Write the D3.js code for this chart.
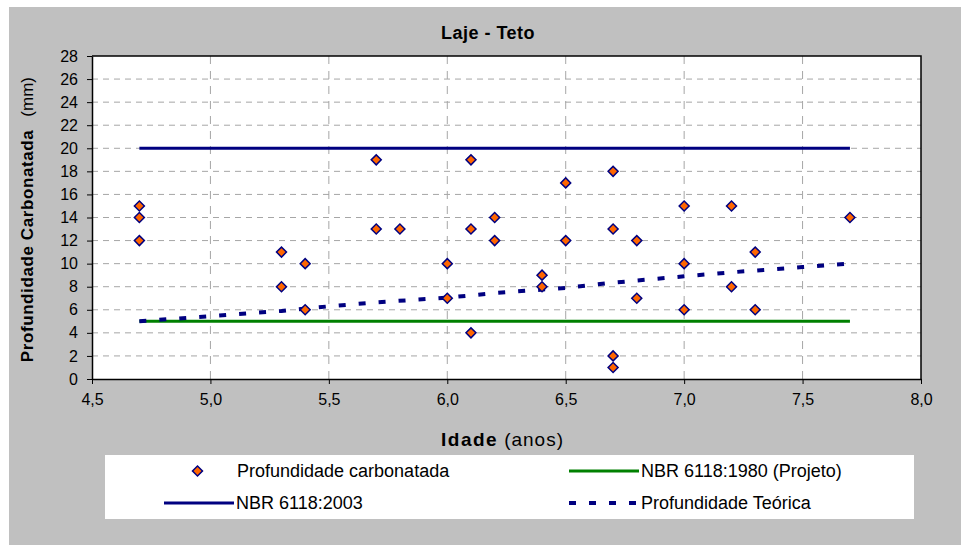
<!DOCTYPE html>
<html>
<head>
<meta charset="utf-8">
<script src="https://cdn.jsdelivr.net/npm/d3@7"></script>
<style>
        body { margin: 0; background: #fff; }
        text { font-family: Arial, "Liberation Sans", sans-serif; fill: #000; }
</style>
</head>
<body>
<div id="chart"></div>
<script>
// pontos medidos
var idade = [4.7, 4.7, 4.7, 5.3, 5.3, 5.4, 5.4, 5.7, 5.7, 5.8, 6.0, 6.0, 6.1, 6.1, 6.1, 6.2, 6.2,
        6.4, 6.4, 6.5, 6.5, 6.7, 6.7, 6.7, 6.7, 6.8, 6.8, 7.0, 7.0, 7.0, 7.2, 7.2, 7.3, 7.3, 7.7];
var profundidade = [15, 14, 12, 11, 8, 10, 6, 19, 13, 13, 10, 7, 19, 13, 4, 14, 12,
        9, 8, 17, 12, 18, 13, 2, 1, 12, 7, 15, 10, 6, 15, 8, 11, 6, 14];

// limites da norma
var normaIdade = [4.7, 7.7];
var nbr2003 = [20, 20];
var nbr1980 = [5, 5];

// curva teorica
var teoricaIdade = [4.7, 5.0, 5.3, 5.5, 5.7, 6.0, 6.2, 6.5, 6.7, 7.0, 7.2, 7.5, 7.7];
var teoricaProf = [5.0, 5.45, 5.9, 6.3, 6.65, 7.05, 7.45, 7.9, 8.35, 8.9, 9.25, 9.7, 10.0];

var xTicks = [4.5, 5.0, 5.5, 6.0, 6.5, 7.0, 7.5, 8.0];
var yTicks = [0, 2, 4, 6, 8, 10, 12, 14, 16, 18, 20, 22, 24, 26, 28];

var legendItems = [
        { name: "Profundidade carbonatada", kind: "point" },
        { name: "NBR 6118:1980 (Projeto)", kind: "green" },
        { name: "NBR 6118:2003", kind: "navy" },
        { name: "Profundidade Teórica", kind: "dash" }
];

var W = 961, H = 545;
var plot = { left: 92, top: 56, right: 921, bottom: 379 };

var svg = d3.select("#chart").append("svg")
        .attr("width", W)
        .attr("height", H);

svg.append("rect")
        .attr("x", 9).attr("y", 7)
        .attr("width", W - 9).attr("height", H - 7)
        .attr("fill", "#c0c0c0");

svg.append("rect")
        .attr("x", plot.left).attr("y", plot.top)
        .attr("width", plot.right - plot.left).attr("height", plot.bottom - plot.top)
        .attr("fill", "#fff");

var x = d3.scaleLinear().domain([4.5, 8.0]).range([plot.left, plot.right]);
var y = d3.scaleLinear().domain([0, 28]).range([plot.bottom, plot.top]);

var fmt = function (d) { return d3.format(".1f")(d).replace(".", ","); };

// grade
svg.append("g")
        .selectAll("line")
        .data(yTicks.filter(function (d) { return d > 0 && d < 28; }))
        .enter().append("line")
        .attr("x1", plot.left).attr("x2", plot.right)
        .attr("y1", function (d) { return y(d); })
        .attr("y2", function (d) { return y(d); })
        .attr("stroke", "#a6a6a6")
        .attr("stroke-dasharray", "6,5");

svg.append("g")
        .selectAll("line")
        .data(xTicks.filter(function (d) { return d > 4.5 && d < 8.0; }))
        .enter().append("line")
        .attr("x1", function (d) { return x(d); })
        .attr("x2", function (d) { return x(d); })
        .attr("y1", plot.top).attr("y2", plot.bottom)
        .attr("stroke", "#a6a6a6")
        .attr("stroke-dasharray", "8,7");

// eixos
var xAxis = d3.axisBottom(x).tickValues(xTicks).tickFormat(fmt).tickSizeInner(5).tickSizeOuter(0).tickPadding(10);
var yAxis = d3.axisLeft(y).tickValues(yTicks).tickSizeInner(5).tickSizeOuter(0).tickPadding(9);

var gx = svg.append("g")
        .attr("transform", "translate(0," + plot.bottom + ")")
        .call(xAxis);
var gy = svg.append("g")
        .attr("transform", "translate(" + plot.left + ",0)")
        .call(yAxis);

[gx, gy].forEach(function (g) {
        g.select(".domain").attr("stroke", "#000").attr("stroke-width", 1.5);
        g.selectAll(".tick line").attr("stroke", "#000");
        g.selectAll(".tick text")
                .style("font-size", "16px")
                .style("font-family", "Arial, 'Liberation Sans', sans-serif")
                .attr("fill", "#000");
});

svg.append("path")
        .attr("d", "M" + plot.left + "," + plot.top + "H" + plot.right + "V" + plot.bottom)
        .attr("fill", "none")
        .attr("stroke", "#000")
        .attr("stroke-width", 1.5);

// series
var line = d3.line()
        .x(function (d) { return x(d[0]); })
        .y(function (d) { return y(d[1]); });

svg.append("path")
        .datum(d3.zip(normaIdade, nbr2003))
        .attr("d", line)
        .attr("fill", "none")
        .attr("stroke", "#000080")
        .attr("stroke-width", 3);

svg.append("path")
        .datum(d3.zip(normaIdade, nbr1980))
        .attr("d", line)
        .attr("fill", "none")
        .attr("stroke", "#008000")
        .attr("stroke-width", 3);

svg.append("path")
        .datum(d3.zip(teoricaIdade, teoricaProf))
        .attr("d", line)
        .attr("fill", "none")
        .attr("stroke", "#000080")
        .attr("stroke-width", 4)
        .attr("stroke-dasharray", "7,13");

var diamond = d3.symbol().type(d3.symbolSquare).size(50);

svg.append("g")
        .selectAll("path")
        .data(d3.zip(idade, profundidade))
        .enter().append("path")
        .attr("d", diamond)
        .attr("transform", function (d) {
                return "translate(" + x(d[0]) + "," + y(d[1]) + ") rotate(45)";
        })
        .attr("fill", "#ff6600")
        .attr("stroke", "#000080")
        .attr("stroke-width", 1.5);

// titulos
svg.append("text")
        .attr("x", 488)
        .attr("y", 39)
        .attr("text-anchor", "middle")
        .style("font-size", "18px")
        .style("font-weight", "bold")
        .style("letter-spacing", "0.5px")
        .text("Laje - Teto");

var yLabel = svg.append("text")
        .attr("transform", "translate(33,77) rotate(-90)")
        .attr("text-anchor", "end")
        .style("font-size", "17px");
yLabel.append("tspan")
        .style("font-weight", "bold")
        .style("letter-spacing", "0.6px")
        .text("Profundidade Carbonatada");
yLabel.append("tspan")
        .attr("dx", 13)
        .text("(mm)");

var xLabel = svg.append("text")
        .attr("x", 441)
        .attr("y", 446)
        .style("font-size", "19px");
xLabel.append("tspan")
        .style("font-weight", "bold")
        .style("letter-spacing", "1.5px")
        .text("Idade");
xLabel.append("tspan")
        .attr("dx", 6)
        .style("letter-spacing", "1px")
        .text("(anos)");

// legenda
svg.append("rect")
        .attr("x", 105).attr("y", 455)
        .attr("width", 809).attr("height", 64)
        .attr("fill", "#fff");

var legend = svg.selectAll(".legend")
        .data(legendItems)
        .enter().append("g")
        .attr("class", "legend")
        .attr("transform", function (d, i) {
                return "translate(" + (i % 2 === 0 ? 164 : 569) + "," + (i < 2 ? 471 : 503) + ")";
        });

legend.each(function (d) {
        var g = d3.select(this);
        if (d.kind === "point") {
                g.append("path")
                        .attr("d", diamond)
                        .attr("transform", "translate(33.5,0) rotate(45)")
                        .attr("fill", "#ff6600")
                        .attr("stroke", "#000080")
                        .attr("stroke-width", 1.5);
        } else {
                g.append("line")
                        .attr("x1", 0).attr("x2", 70)
                        .attr("stroke", d.kind === "green" ? "#008000" : "#000080")
                        .attr("stroke-width", d.kind === "dash" ? 4 : 3)
                        .attr("stroke-dasharray", d.kind === "dash" ? "7,13" : null);
        }
});

legend.append("text")
        .attr("x", function (d) { return d.kind === "point" ? 73 : 72; })
        .attr("y", 6)
        .style("font-size", "18px")
        .text(function (d) { return d.name; });
</script>
</body>
</html>
